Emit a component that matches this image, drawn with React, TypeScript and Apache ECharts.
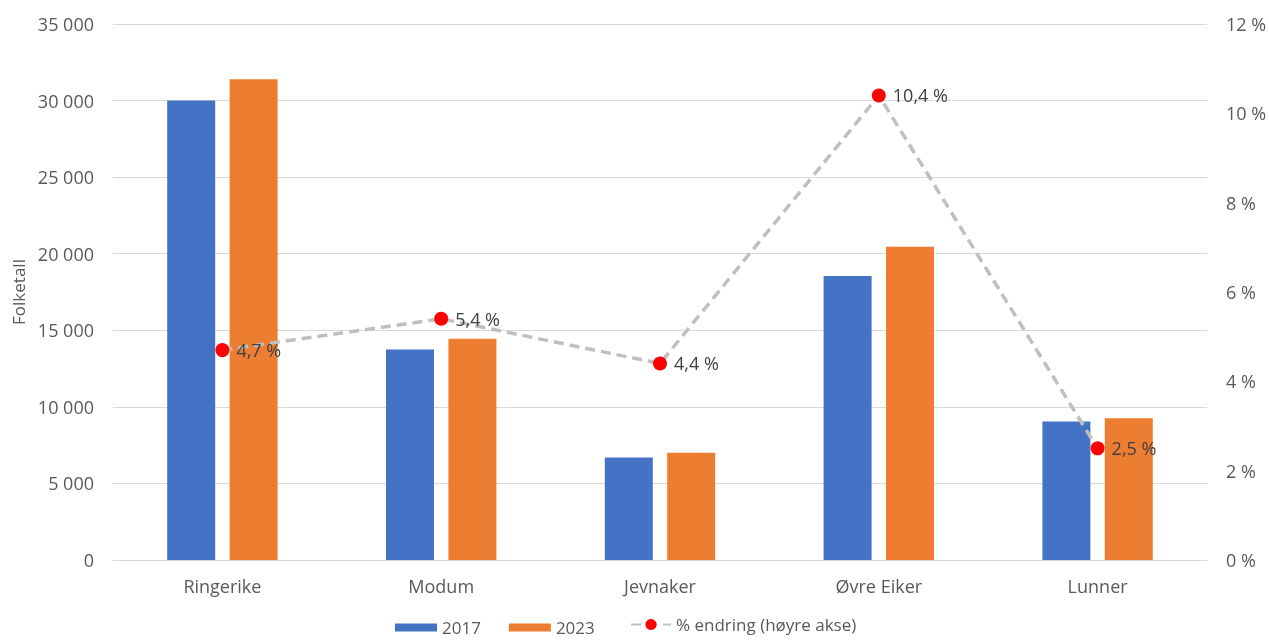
import React, { useEffect, useRef } from "react";
import * as echarts from "echarts";

const categories = ["Ringerike", "Modum", "Jevnaker", "Øvre Eiker", "Lunner"];
const pop2017 = [30000, 13750, 6700, 18550, 9050];
const pop2023 = [31400, 14450, 7000, 20450, 9250];
const pctChange = [4.7, 5.4, 4.4, 10.4, 2.5];

const FONT = "'Open Sans', sans-serif";
const TXT = "#595959";
const fmtThousands = (v: number) =>
  String(v).replace(/\B(?=(\d{3})+(?!\d))/g, " ");
const fmtPct = (v: number) => String(v).replace(".", ",") + " %";

export default function App() {
  const ref = useRef<HTMLDivElement>(null);
  useEffect(() => {
    if (!ref.current) return;
    const chart = echarts.init(ref.current, undefined, { renderer: "svg" });
    chart.setOption({
      animation: false,
      textStyle: { fontFamily: FONT },
      grid: {
        left: 113,
        right: 62,
        top: 24,
        bottom: 80,
        containLabel: false,
        outerBoundsMode: "none",
      },
      legend: [
        {
          left: 390,
          top: 614,
          itemGap: 28,
          itemWidth: 42,
          itemHeight: 8,
          icon: "rect",
          textStyle: { fontFamily: FONT, fontSize: 17, color: TXT },
          data: ["2017", "2023"],
        },
        {
          left: 625,
          top: 611,
          itemWidth: 40,
          itemHeight: 14,
          textStyle: { fontFamily: FONT, fontSize: 17, color: TXT },
          data: ["% endring (høyre akse)"],
        },
      ],
      xAxis: {
        type: "category",
        data: categories,
        axisTick: { show: false },
        axisLine: { lineStyle: { color: "#d9d9d9", width: 1 } },
        axisLabel: { color: TXT, fontSize: 18, fontFamily: FONT, margin: 17 },
      },
      yAxis: [
        {
          type: "value",
          min: 0,
          max: 35000,
          interval: 5000,
          name: "Folketall",
          nameLocation: "middle",
          nameGap: 85,
          nameRotate: 90,
          nameTextStyle: { color: TXT, fontSize: 17, fontFamily: FONT },
          axisLabel: {
            color: TXT,
            fontSize: 18,
            fontFamily: FONT,
            margin: 19,
            formatter: (v: number) => fmtThousands(v),
          },
          splitLine: { lineStyle: { color: "#d9d9d9" } },
          axisLine: { show: false },
          axisTick: { show: false },
        },
        {
          type: "value",
          min: 0,
          max: 12,
          interval: 2,
          position: "right",
          axisLabel: {
            color: TXT,
            fontSize: 18,
            fontFamily: FONT,
            margin: 19,
            formatter: (v: number) => v + " %",
          },
          splitLine: { show: false },
          axisLine: { show: false },
          axisTick: { show: false },
        },
      ],
      series: [
        {
          name: "2017",
          type: "bar",
          data: pop2017,
          barWidth: 48,
          barGap: "30%",
          itemStyle: { color: "#4472c4" },
        },
        {
          name: "2023",
          type: "bar",
          data: pop2023,
          barWidth: 48,
          itemStyle: { color: "#ed7d31" },
        },
        {
          name: "% endring (høyre akse)",
          type: "line",
          yAxisIndex: 1,
          data: pctChange,
          symbol: "circle",
          symbolSize: 14,
          itemStyle: { color: "#ff0000" },
          lineStyle: { color: "#bfbfbf", width: 3.5, type: [10, 6] },
          label: {
            show: true,
            position: "right",
            distance: 7,
            color: "#404040",
            fontSize: 18,
            fontFamily: FONT,
            formatter: (p: any) => fmtPct(p.value),
          },
          z: 5,
        },
      ],
    });
    return () => chart.dispose();
  }, []);
  return (
    <div
      ref={ref}
      style={{ position: "fixed", left: 0, top: 0, width: 1269, height: 640 }}
    />
  );
}
